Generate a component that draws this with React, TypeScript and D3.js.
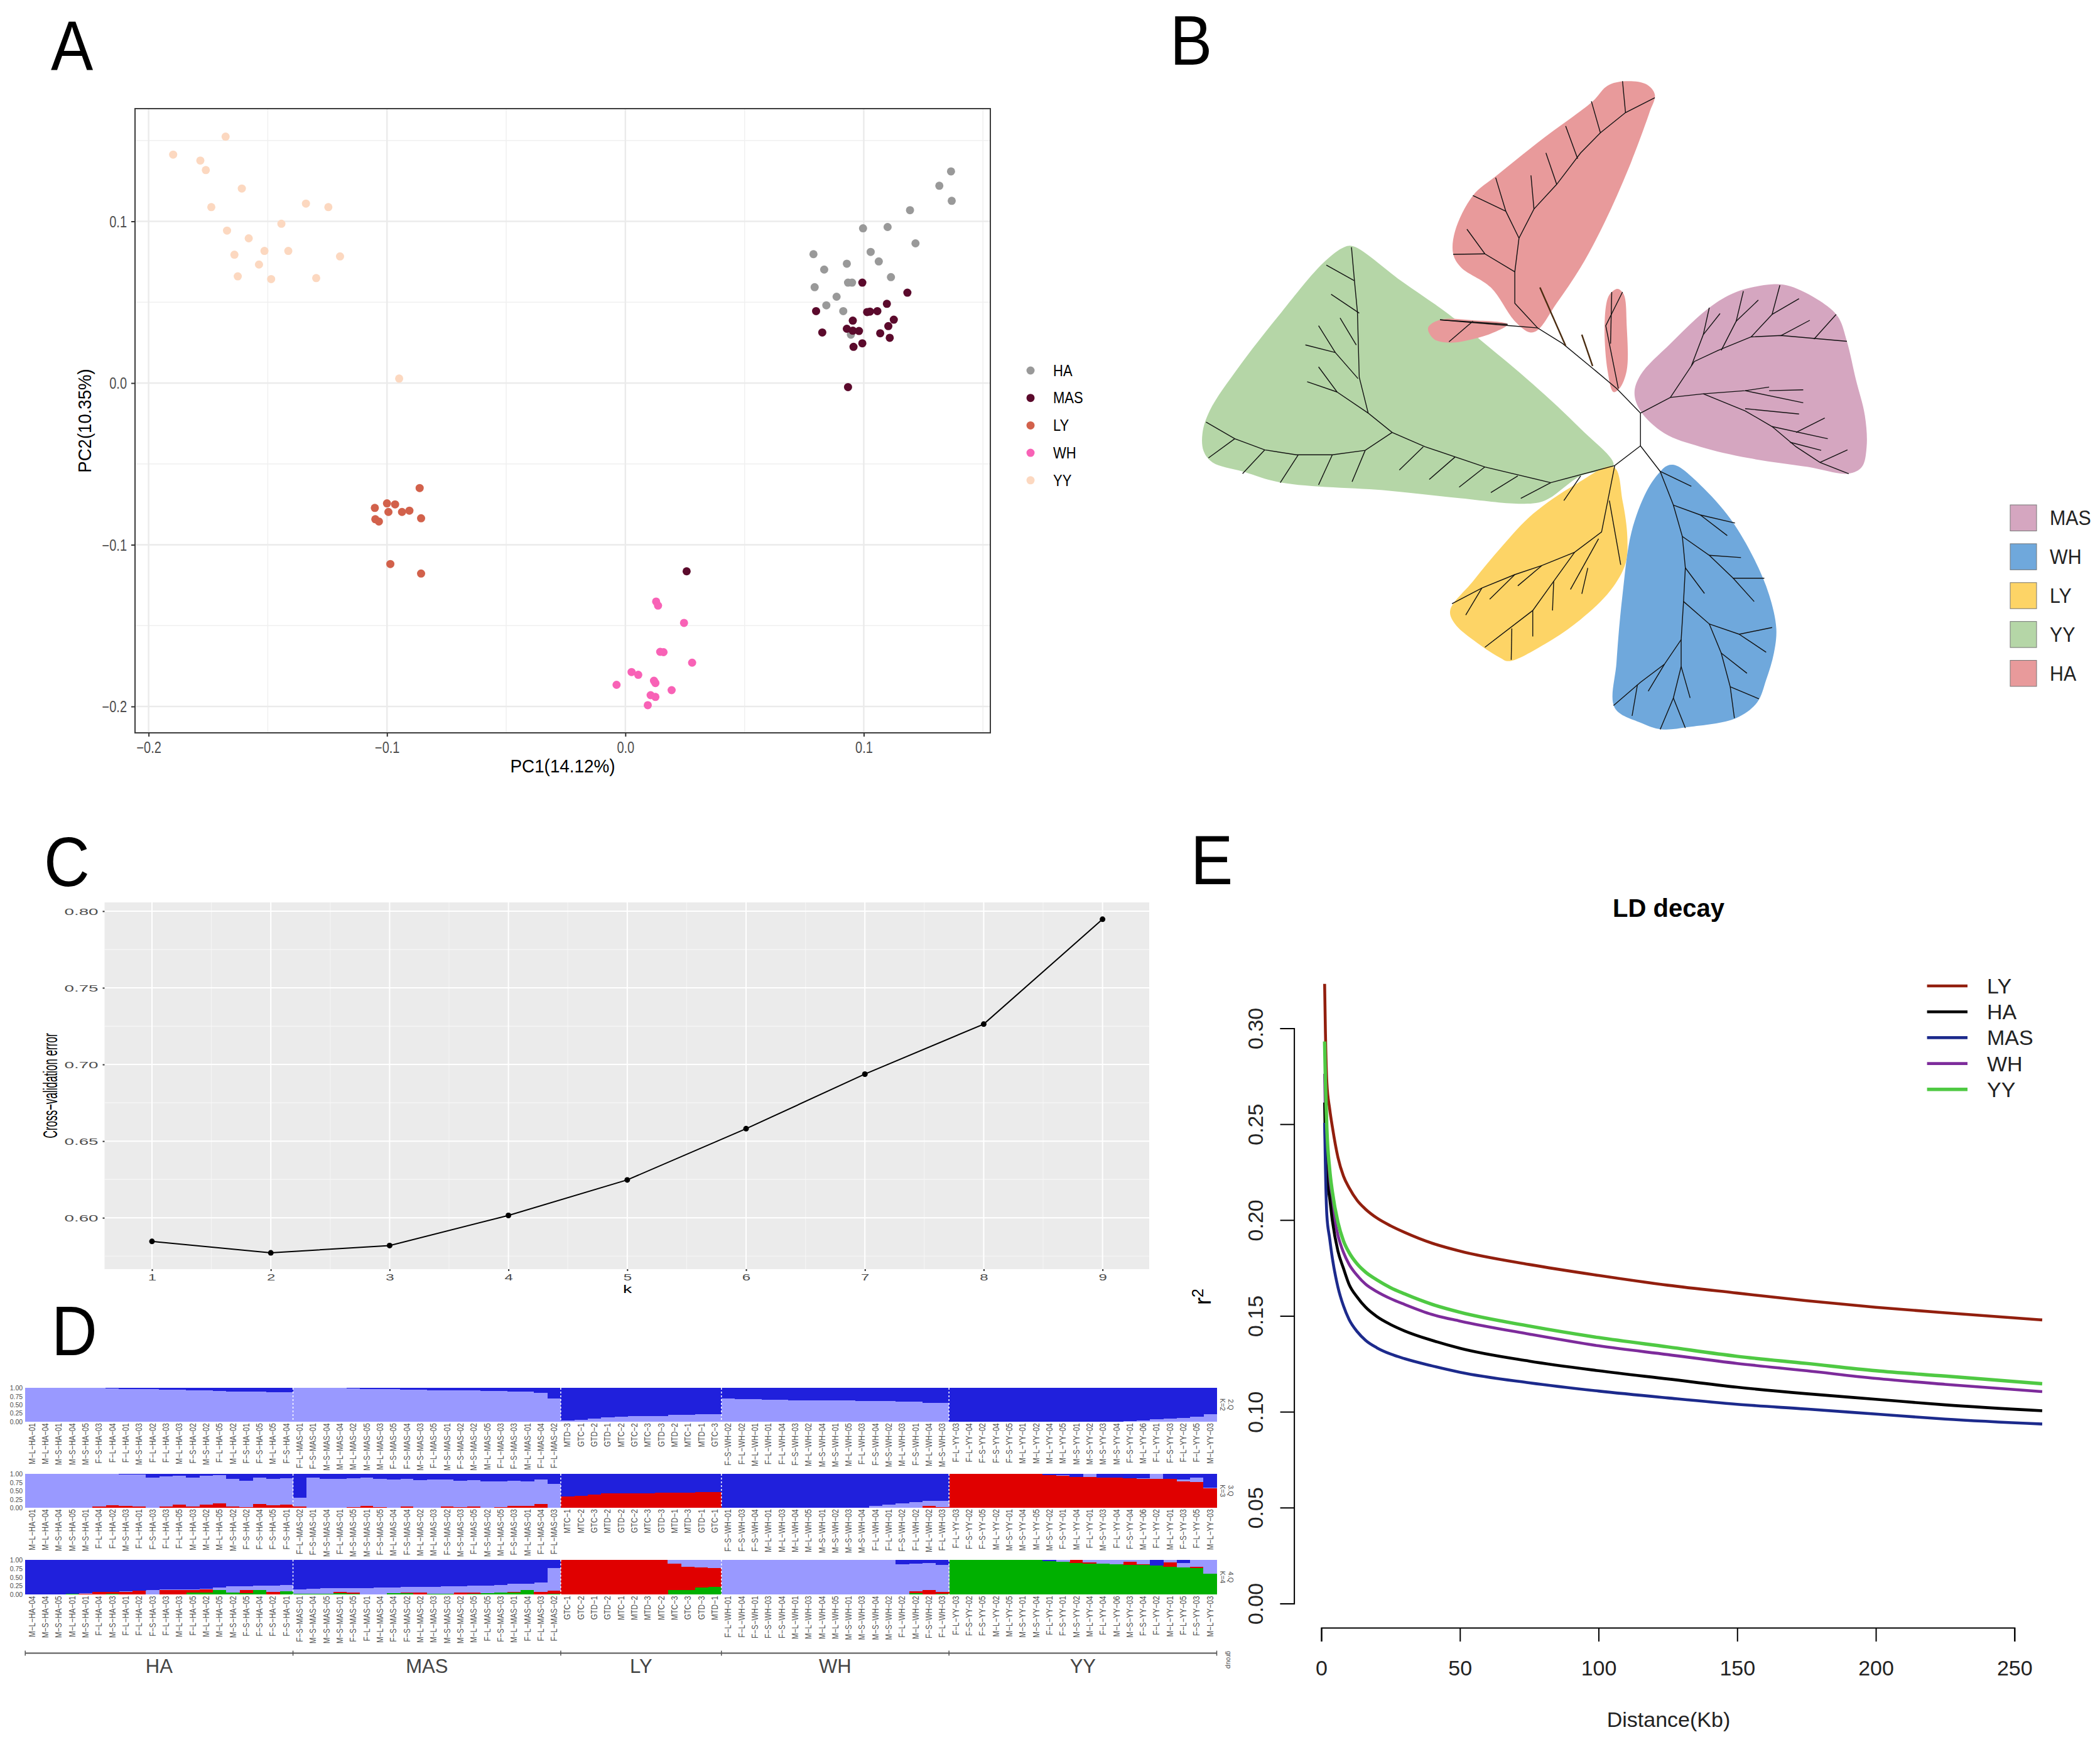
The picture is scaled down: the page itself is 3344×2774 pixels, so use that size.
import * as d3 from "d3";
import { useEffect, useRef } from "react";

const FONT = "'Liberation Sans', Arial, sans-serif";

// ---------- panel A: PCA ----------
const pcaGroups = ["HA", "MAS", "LY", "WH", "YY"];
const pcaColors = ["#999999", "#5b0a2c", "#d2614b", "#f862b6", "#fcd8c0"];
const pcaHA = [[.1366,.1309],[.1317,.122],[.1369,.1127],[.1194,.1069],[.0997,.0957],[.11,.0965],[.1217,.0864],[.0789,.0797],[.1029,.0811],[.1063,.0752],[.0929,.0738],[.0834,.0702],[.1114,.0655],[.0934,.0621],[.0951,.0621],[.0794,.0593],[.0886,.0534],[.0843,.0481],[.0914,.0445],[.0946,.0299]];
const pcaMAS = [[.0994,.0621],[.1183,.0559],[.1097,.049],[.08,.0445],[.1014,.0439],[.1026,.0442],[.1057,.0445],[.0954,.0386],[.1126,.0392],[.1103,.0352],[.0929,.0336],[.0954,.0324],[.098,.0322],[.0826,.0313],[.1069,.0308],[.1109,.028],[.0994,.0246],[.0957,.0224],[.0934,-.0025],[.0257,-.1164]];
const pcaLY = [[-.0863,-.0649],[-.1,-.0744],[-.0966,-.075],[-.1051,-.0772],[-.0994,-.0797],[-.0937,-.0797],[-.0906,-.0789],[-.0857,-.0836],[-.1049,-.0842],[-.1034,-.0856],[-.0986,-.1119],[-.0857,-.1178]];
const pcaWH = [[.0129,-.1351],[.0137,-.1376],[.0246,-.1483],[.0146,-.1662],[.016,-.1664],[.028,-.1729],[.0026,-.1787],[.0054,-.1804],[-.0037,-.1866],[.012,-.1841],[.0126,-.1855],[.0194,-.1899],[.0106,-.193],[.0126,-.1941],[.0094,-.1992]];
const pcaYY = [[-.1677,.1524],[-.1897,.1413],[-.1783,.1376],[-.176,.1317],[-.1609,.1203],[-.1737,.1088],[-.134,.111],[-.1246,.1088],[-.1443,.0985],[-.1671,.0943],[-.158,.0895],[-.1514,.0817],[-.1414,.0817],[-.164,.0794],[-.1197,.0783],[-.1537,.0733],[-.1626,.066],[-.1486,.0643],[-.1297,.0649],[-.0949,.0028]];
const pcaPoints = [pcaHA, pcaMAS, pcaLY, pcaWH, pcaYY];

// ---------- panel B: tree, in crop units ----------
const treeLegend = ["MAS", "WH", "LY", "YY", "HA"];
const treeColors = ["#d5a6c0", "#6fa8dc", "#fdd466", "#b5d6a7", "#e89a9b"];
const blobYY = [[305,425],[320,423],[400,500],[480,575],[540,640],[620,730],[700,830],[755,912],[700,935],[640,990],[600,997],[500,985],[380,968],[200,950],[135,925],[85,905],[70,880],[68,840],[80,790],[130,690],[200,570],[270,460]];
const blobHA = [[775,55],[810,62],[824,85],[815,125],[780,250],[740,370],[700,470],[660,550],[628,610],[615,615],[590,590],[550,515],[500,470],[487,440],[490,390],[520,310],[560,265],[640,180],[720,100],[745,65]];
const blobHA2 = [[445,605],[465,587],[520,588],[578,597],[555,615],[520,630],[480,638],[455,630]];
const blobHA3 = [[752,525],[762,518],[772,530],[777,600],[777,700],[765,740],[755,748],[745,700],[740,600],[745,540]];
const blobLY = [[755,915],[770,990],[778,1070],[775,1130],[750,1190],[700,1255],[640,1310],[580,1348],[565,1340],[530,1310],[490,1265],[482,1235],[520,1170],[570,1090],[620,1020],[690,955]];
const blobWH = [[845,912],[860,912],[900,955],[950,1030],[990,1120],[1015,1200],[1027,1275],[1023,1330],[1010,1390],[995,1440],[960,1475],[880,1495],[835,1500],[800,1485],[757,1452],[760,1350],[770,1200],[785,1060],[810,970],[830,930]];
const blobMAS = [[1020,508],[1050,512],[1100,545],[1130,580],[1145,635],[1160,720],[1175,800],[1178,870],[1170,915],[1148,930],[1080,915],[980,895],[900,870],[840,840],[800,790],[790,750],[800,710],[850,640],[915,560],[960,525]];
const blobs = [
  { pts: blobYY, fill: "#b5d6a7" }, { pts: blobHA, fill: "#e89a9b" }, { pts: blobHA2, fill: "#e89a9b" },
  { pts: blobHA3, fill: "#e89a9b" }, { pts: blobLY, fill: "#fdd466" }, { pts: blobWH, fill: "#6fa8dc" },
  { pts: blobMAS, fill: "#d5a6c0" },
];
const branches = [
  [[800,795],[800,868]],
  [[800,795],[760,740],[720,695],[670,640],[628,605],[580,600],[465,587]],
  [[628,605],[590,550],[590,480],[597,405],[622,340],[660,285],[700,215],[733,170],[775,125],[824,92]],
  [[597,405],[575,345],[558,270]],[[575,345],[520,310]],[[590,480],[540,440],[510,385]],[[540,440],[487,441]],
  [[622,340],[617,265]],[[660,285],[642,215]],[[695,228],[675,155]],[[733,170],[718,100]],[[775,125],[770,55]],
  [[520,590],[480,636]],[[465,587],[578,597]],
  [[763,740],[742,600],[770,525]],[[752,525],[750,640]],
  [[800,795],[850,760],[905,752],[975,745],[1015,737]],[[975,745],[1072,772]],[[1015,745],[1072,743]],
  [[850,760],[890,680],[930,655],[985,625],[1035,622],[1145,635]],[[885,690],[905,620],[915,560]],[[905,620],[933,573]],
  [[935,655],[960,590],[972,523]],[[960,590],[997,543]],[[985,625],[1020,575],[1033,510]],[[1020,575],[1065,540]],
  [[1035,622],[1083,588]],[[1090,630],[1127,575]],
  [[905,752],[975,790],[1020,825],[1060,870],[1100,905],[1148,930]],[[975,785],[1065,797]],[[1020,825],[1113,852]],
  [[1060,838],[1108,806]],[[1050,860],[1102,878]],[[1100,905],[1146,877]],
  [[800,868],[757,912],[650,950],[540,915],[440,870],[385,838],[345,795],[330,715],[327,570],[322,500],[317,425]],
  [[385,838],[340,878],[285,888],[225,888],[172,877],[122,852],[74,815]],
  [[122,852],[78,895]],[[172,877],[135,930]],[[228,888],[198,950]],[[285,888],[262,955]],[[340,878],[318,948]],
  [[437,870],[397,922]],[[490,893],[447,943]],[[540,915],[497,960]],[[595,935],[550,972]],[[650,950],[600,985]],
  [[322,500],[275,465]],[[330,572],[283,530]],[[328,718],[290,660],[262,600]],[[290,660],[240,643]],[[325,643],[298,583]],
  [[345,795],[293,748],[262,692]],[[293,748],[243,725]],
  [[757,912],[735,1060],[690,1105],[635,1135],[590,1155],[535,1185],[485,1220]],[[700,935],[672,990]],
  [[748,990],[767,1133]],[[690,1105],[655,1170],[620,1235],[540,1317]],[[535,1185],[508,1245]],[[590,1155],[548,1210]],
  [[635,1135],[595,1180]],[[655,1170],[653,1235]],[[620,1235],[620,1293]],[[585,1275],[584,1345]],[[730,1075],[683,1188]],[[712,1140],[702,1198]],
  [[800,868],[833,925],[855,1000],[870,1070],[875,1140],[872,1215],[868,1300],[840,1355],[800,1395],[755,1447]],
  [[833,925],[885,958]],[[855,1000],[900,1022],[958,1040]],[[900,1022],[945,1068]],[[870,1070],[915,1112],[968,1117]],
  [[915,1112],[955,1163],[1007,1163]],[[955,1163],[990,1215]],[[875,1140],[907,1197]],
  [[872,1215],[915,1265],[935,1330],[950,1405],[957,1475]],[[915,1265],[965,1288],[1020,1273]],[[965,1288],[1010,1328]],
  [[935,1330],[978,1375]],[[950,1405],[998,1432]],[[868,1300],[868,1360],[855,1430],[833,1500]],[[855,1430],[875,1497]],
  [[868,1360],[883,1430]],[[840,1355],[813,1415]],[[795,1400],[786,1470]],
];
const brownBranches = [[[632,515],[675,645]],[[702,620],[720,690]]];

// ---------- panel C: cross-validation ----------
const cvK = [1, 2, 3, 4, 5, 6, 7, 8, 9];
const cvError = [.5846, .5771, .5819, .6015, .6247, .6581, .6937, .7263, .7947];

// ---------- panel D: admixture ----------
const groupNames = ["HA", "MAS", "LY", "WH", "YY"];
const groupSizes = [20, 20, 12, 17, 20];

const k2Labels = [
  "M-L-HA-01","M-L-HA-04","M-S-HA-01","M-S-HA-04","M-S-HA-05","F-S-HA-03","F-L-HA-04","F-L-HA-01","M-S-HA-03","F-L-HA-02","F-L-HA-03","M-L-HA-03","F-S-HA-02","M-S-HA-02","F-L-HA-05","M-L-HA-02","F-S-HA-01","F-S-HA-05","M-L-HA-05","F-S-HA-04",
  "F-L-MAS-01","F-S-MAS-01","M-S-MAS-04","M-L-MAS-04","M-L-MAS-02","M-S-MAS-05","M-L-MAS-03","F-S-MAS-05","F-S-MAS-04","M-S-MAS-03","F-L-MAS-05","M-S-MAS-01","F-S-MAS-02","M-S-MAS-02","M-L-MAS-05","F-L-MAS-03","F-S-MAS-03","M-L-MAS-01","F-L-MAS-04","F-L-MAS-02",
  "MTD-3","GTC-1","GTD-2","GTD-1","MTC-2","GTC-2","MTC-3","GTD-3","MTD-2","MTC-1","MTD-1","GTC-3",
  "F-S-WH-02","F-L-WH-02","M-L-WH-01","F-L-WH-01","F-L-WH-04","F-S-WH-03","M-L-WH-02","M-S-WH-04","M-S-WH-01","M-L-WH-05","F-L-WH-03","F-S-WH-04","M-S-WH-02","M-L-WH-03","F-S-WH-01","M-L-WH-04","M-S-WH-03",
  "F-L-YY-03","F-L-YY-04","F-S-YY-02","F-S-YY-04","F-S-YY-05","M-L-YY-01","M-L-YY-02","M-L-YY-04","M-L-YY-05","M-S-YY-01","M-S-YY-02","M-S-YY-03","M-S-YY-04","F-S-YY-01","M-L-YY-06","F-L-YY-01","F-S-YY-03","F-L-YY-02","F-L-YY-05","M-L-YY-03",
];
const k3Labels = [
  "M-L-HA-01","M-L-HA-04","M-S-HA-04","M-S-HA-05","M-S-HA-01","F-L-HA-04","F-L-HA-02","M-S-HA-03","F-L-HA-01","F-S-HA-03","F-L-HA-03","F-L-HA-05","M-L-HA-03","M-L-HA-02","M-L-HA-05","M-S-HA-02","F-S-HA-02","F-S-HA-04","F-S-HA-05","F-S-HA-01",
  "F-L-MAS-02","F-S-MAS-01","M-S-MAS-04","F-L-MAS-01","M-S-MAS-05","M-S-MAS-01","F-S-MAS-05","M-L-MAS-04","F-S-MAS-04","M-L-MAS-02","M-L-MAS-03","F-S-MAS-02","M-S-MAS-03","F-L-MAS-05","M-S-MAS-02","M-L-MAS-05","F-S-MAS-03","M-L-MAS-01","F-L-MAS-04","F-L-MAS-03",
  "MTC-1","MTC-2","GTC-3","MTD-2","GTD-2","GTC-2","MTC-3","GTD-3","MTD-1","MTD-3","GTD-1","GTC-1",
  "F-S-WH-01","F-S-WH-03","F-S-WH-04","M-L-WH-01","M-L-WH-03","M-L-WH-04","M-L-WH-05","M-S-WH-01","M-S-WH-02","M-S-WH-03","M-S-WH-04","F-L-WH-04","F-L-WH-01","F-S-WH-02","F-L-WH-02","M-L-WH-02","F-L-WH-03",
  "F-L-YY-03","F-S-YY-02","F-S-YY-05","M-L-YY-02","M-S-YY-01","M-S-YY-04","M-L-YY-05","M-S-YY-02","F-S-YY-01","M-L-YY-04","F-L-YY-01","M-S-YY-03","F-L-YY-04","F-S-YY-04","M-L-YY-06","F-L-YY-02","M-L-YY-01","F-S-YY-03","F-L-YY-05","M-L-YY-03",
];
const k4Labels = [
  "M-L-HA-04","M-S-HA-04","M-S-HA-05","M-L-HA-01","M-S-HA-01","F-L-HA-04","M-S-HA-03","F-L-HA-01","F-L-HA-02","F-S-HA-03","F-L-HA-03","M-L-HA-03","F-L-HA-05","M-L-HA-02","M-L-HA-05","M-S-HA-02","F-S-HA-05","F-S-HA-04","F-S-HA-02","F-S-HA-01",
  "F-S-MAS-01","M-S-MAS-04","M-S-MAS-05","M-S-MAS-01","F-S-MAS-05","F-L-MAS-01","M-L-MAS-04","F-S-MAS-04","F-S-MAS-02","M-L-MAS-02","M-L-MAS-03","M-S-MAS-03","M-S-MAS-02","M-L-MAS-05","F-L-MAS-05","F-S-MAS-03","M-L-MAS-01","F-L-MAS-04","F-L-MAS-03","F-L-MAS-02",
  "GTC-1","GTC-2","GTD-1","GTD-2","MTC-1","MTD-2","MTD-3","MTC-2","MTC-3","GTC-3","GTD-3","MTD-1",
  "F-L-WH-01","F-L-WH-04","F-S-WH-01","F-S-WH-03","F-S-WH-04","M-L-WH-01","M-L-WH-03","M-L-WH-04","M-L-WH-05","M-S-WH-01","M-S-WH-03","M-S-WH-04","M-S-WH-02","F-L-WH-02","M-L-WH-02","F-S-WH-02","F-L-WH-03",
  "F-L-YY-03","F-S-YY-02","F-S-YY-05","M-L-YY-02","M-L-YY-05","M-S-YY-01","M-S-YY-04","F-L-YY-01","F-S-YY-01","M-S-YY-02","M-L-YY-04","F-L-YY-04","M-L-YY-06","M-S-YY-03","F-S-YY-04","F-L-YY-02","M-L-YY-01","F-L-YY-05","F-S-YY-03","M-L-YY-03",
];

// blue is whatever is left up to 1
const k2Lav = [
  1,1,1,1,1,.99,.98,.97,.97,.96,.95,.94,.93,.92,.91,.89,.88,.88,.86,.86,
  1,.99,.99,.99,.98,.97,.96,.96,.95,.94,.93,.93,.93,.93,.91,.9,.89,.88,.845,.68,
  .04,.05,.08,.12,.15,.155,.17,.17,.19,.19,.21,.22,
  .68,.67,.66,.65,.64,.63,.63,.62,.62,.62,.61,.61,.6,.59,.58,.56,.55,
  0,0,0,0,0,0,0,0,0,0,0,0,0,.02,.04,.06,.09,.11,.15,.22,
];
const k3Red = [
  0,0,0,0,0,.03,.07,.05,.04,0,.04,.08,.04,.09,.12,.03,.01,.11,.07,.09,
  .03,0,0,0,.01,.05,.01,0,.03,0,0,.03,.01,.03,0,.01,.05,.06,.1,0,
  .33,.35,.39,.42,.43,.43,.43,.44,.44,.45,.455,.46,
  0,0,0,0,0,0,0,0,0,0,0,0,0,0,0,.05,.02,
  1,1,1,1,1,1,1,.97,.935,.91,.91,.895,.88,.865,.86,.85,.845,.78,.76,.57,
];
const k3Lav = [
  1,1,1,1,1,.97,.93,.94,.95,.895,.88,.865,.855,.85,.84,.815,.785,.775,.78,.775,
  .265,.895,.86,.86,.86,.835,.85,.83,.82,.815,.825,.81,.79,.785,.775,.77,.75,.715,.73,.705,
  0,0,0,0,0,0,0,0,0,0,0,0,
  0,0,0,0,0,0,0,0,0,0,0,.06,.085,.12,.155,.15,.19,
  0,0,0,0,0,0,0,0,.03,0,.09,0,0,0,.01,.15,0,.06,.12,.03,
];
const k4Green = [
  0,0,0,.01,0,0,.02,0,0,0,0,0,.05,.06,.13,.05,.04,.12,0,.09,
  .01,.01,.01,.03,.01,0,0,.04,.03,0,.01,.02,0,.02,.04,.06,.06,.12,0,.02,
  0,0,0,0,0,0,0,0,.13,.12,.205,.215,
  0,0,0,0,0,0,0,0,0,0,0,0,0,0,.04,0,.02,
  1,1,1,1,1,1,1,.955,.945,.9,.895,.885,.865,.86,.855,.84,.8,.77,.76,.59,
];
const k4Red = [
  0,0,0,0,.02,.07,.05,.08,.1,0,.135,.13,.08,.08,0,0,.095,.01,.07,0,
  0,0,0,.05,.04,0,0,0,.03,.06,0,0,.06,.03,0,0,.02,0,.08,.09,
  1,1,1,1,1,1,1,1,.76,.675,.575,.545,
  0,0,0,0,0,0,0,0,0,0,0,0,0,0,.05,.13,.05,
  0,0,0,0,0,0,0,0,0,.1,.02,0,0,.08,.02,0,.12,0,.03,0,
];
const k4Lav = [
  0,0,0,.01,.015,0,.01,.01,0,.13,.005,.01,.02,.03,.07,.18,.105,.12,.19,.18,
  .14,.16,.17,.1,.14,.19,.2,.16,.15,.15,.21,.21,.18,.2,.22,.21,.22,.19,.26,.65,
  0,0,0,0,0,0,0,0,.11,.205,.22,.24,
  1,1,1,1,1,1,1,1,1,1,1,1,1,.87,.8,.77,.78,
  0,0,0,0,0,0,0,0,.055,0,.085,.115,.135,.06,.125,0,.08,.13,.21,.41,
];
const ancestryColors: Record<string, string> = { green: "#00b000", red: "#e00000", lav: "#9999ff", blue: "#2020dc" };

// ---------- panel E: LD decay ----------
const ldKb = [1.2, 1.5, 2, 3, 4, 6, 8, 10, 13, 16, 20, 25, 30, 40, 50, 75, 100, 125, 150, 175, 200, 225, 260];
const ldLY = [.3232,.2973,.2718,.2582,.2485,.2327,.2229,.2169,.2101,.2056,.2011,.197,.1936,.1879,.1838,.1768,.1711,.166,.1619,.1579,.1545,.1516,.1479];
const ldHA = [.2613,.2357,.2222,.2116,.1996,.1838,.1748,.1665,.1597,.1545,.1497,.1455,.1422,.1372,.1331,.1264,.1214,.1171,.1128,.1094,.1065,.1036,.1005];
const ldMAS = [.2507,.2267,.2026,.1906,.18,.165,.1552,.1482,.1417,.1372,.1334,.1301,.1277,.1239,.1206,.1151,.1108,.1072,.1039,.1014,.0988,.0962,.0936];
const ldWH = [.2763,.2537,.2327,.2176,.2071,.1921,.1831,.177,.171,.1665,.1627,.159,.156,.1507,.1473,.1405,.1344,.1298,.1252,.1214,.1174,.1143,.1105];
const ldYY = [.2931,.2718,.2477,.2267,.2146,.1988,.1891,.1831,.177,.1728,.1688,.1647,.1615,.156,.1519,.1447,.1387,.1338,.1289,.1252,.1214,.1186,.1146];
const ldSeries = [
  { name: "LY", values: ldLY, color: "#921f0e", width: 4.6 },
  { name: "HA", values: ldHA, color: "#000000", width: 4.6 },
  { name: "MAS", values: ldMAS, color: "#1c2a8c", width: 4.6 },
  { name: "WH", values: ldWH, color: "#7d2b9b", width: 4.6 },
  { name: "YY", values: ldYY, color: "#4fc943", width: 5.4 },
];
const ldDrawOrder = ["LY", "WH", "HA", "MAS", "YY"];

type Sel = any;

function label(g: Sel, x: number, y: number, s: string, o: any = {}) {
  const t = g.append("text")
    .attr("transform", `translate(${x},${y}) rotate(${o.rotate || 0}) scale(${o.sx || 1},1)`)
    .attr("dy", ".35em")
    .attr("text-anchor", o.anchor || "middle")
    .attr("font-family", FONT)
    .attr("font-size", o.size || 20)
    .attr("font-weight", o.weight || "normal")
    .attr("fill", o.color || "#000")
    .text(s);
  return t;
}

// restyle d3 axis tick labels; dx/dy are measured from the tick
function tickText(axis: Sel, o: any) {
  axis.selectAll(".tick text")
    .attr("x", 0).attr("y", 0).attr("dy", ".35em")
    .attr("text-anchor", o.anchor || "middle")
    .attr("font-family", FONT)
    .attr("font-size", o.size)
    .attr("fill", o.color || "#000")
    .attr("transform", `translate(${o.dx || 0},${o.dy || 0}) rotate(${o.rotate || 0}) scale(${o.sx || 1},1)`);
}

function drawPca(svg: Sel) {
  const g = svg.append("g");
  const x = d3.scaleLinear().domain([-.2057, .1531]).range([215, 1577]);
  const y = d3.scaleLinear().domain([-.2163, .1697]).range([1167, 173]);

  [-.15, -.05, .05, .15].forEach(v => {
    g.append("line").attr("x1", x(v)).attr("x2", x(v)).attr("y1", 173).attr("y2", 1167).attr("stroke", "#f0f0f0").attr("stroke-width", 1.5);
    g.append("line").attr("y1", y(v)).attr("y2", y(v)).attr("x1", 215).attr("x2", 1577).attr("stroke", "#f0f0f0").attr("stroke-width", 1.5);
  });
  [-.2, -.1, 0, .1].forEach(v => {
    g.append("line").attr("x1", x(v)).attr("x2", x(v)).attr("y1", 173).attr("y2", 1167).attr("stroke", "#ebebeb").attr("stroke-width", 2.5);
    g.append("line").attr("y1", y(v)).attr("y2", y(v)).attr("x1", 215).attr("x2", 1577).attr("stroke", "#ebebeb").attr("stroke-width", 2.5);
  });

  pcaPoints.forEach((pts, i) => {
    g.append("g").selectAll("circle").data(pts).join("circle")
      .attr("cx", (d: number[]) => x(d[0]))
      .attr("cy", (d: number[]) => y(d[1]))
      .attr("r", 6.5)
      .attr("fill", pcaColors[i]);
  });

  g.append("rect").attr("x", 215).attr("y", 173).attr("width", 1362).attr("height", 994)
    .attr("fill", "none").attr("stroke", "#3c3c3c").attr("stroke-width", 2);

  const ticks = [-.2, -.1, 0, .1];
  const ax = g.append("g").attr("transform", "translate(0,1167)")
    .call(d3.axisBottom(x).tickValues(ticks).tickFormat(d3.format(".1f") as any).tickSize(6));
  ax.select(".domain").remove();
  ax.selectAll("line").attr("stroke", "#333").attr("stroke-width", 2);
  tickText(ax, { size: 25, color: "#4d4d4d", sx: .8, dy: 23 });
  const ay = g.append("g").attr("transform", "translate(215,0)")
    .call(d3.axisLeft(y).tickValues(ticks).tickFormat(d3.format(".1f") as any).tickSize(6));
  ay.select(".domain").remove();
  ay.selectAll("line").attr("stroke", "#333").attr("stroke-width", 2);
  tickText(ay, { size: 25, color: "#4d4d4d", sx: .8, dx: -13, anchor: "end" });

  label(g, 896, 1220, "PC1(14.12%)", { size: 29, sx: .96 });
  label(g, 135, 670, "PC2(10.35%)", { size: 29, rotate: -90, sx: .95 });

  pcaGroups.forEach((name, i) => {
    const ly = 590 + i * 43.7;
    g.append("circle").attr("cx", 1641).attr("cy", ly).attr("r", 6.5).attr("fill", pcaColors[i]);
    label(g, 1677, ly, name, { size: 25, sx: .88, anchor: "start" });
  });
}

function drawTree(svg: Sel) {
  const g = svg.append("g");
  const x = d3.scaleLinear().domain([0, 1568]).range([1850, 3344]);
  const y = d3.scaleLinear().domain([0, 1568]).range([90, 1210]);
  const blob = d3.line<number[]>().x(d => x(d[0])).y(d => y(d[1])).curve(d3.curveCatmullRomClosed.alpha(.5));
  const path = d3.line<number[]>().x(d => x(d[0])).y(d => y(d[1]));

  g.append("g").selectAll("path").data(blobs).join("path")
    .attr("d", (d: any) => blob(d.pts))
    .attr("fill", (d: any) => d.fill);
  g.append("g").selectAll("path").data(branches).join("path")
    .attr("d", (d: any) => path(d))
    .attr("fill", "none").attr("stroke", "#111").attr("stroke-width", 1.4);
  g.append("g").selectAll("path").data(brownBranches).join("path")
    .attr("d", (d: any) => path(d))
    .attr("fill", "none").attr("stroke", "#4a2c10").attr("stroke-width", 2.4);

  const swatch = d3.scaleBand<string>().domain(treeLegend).range([804, 1093]).paddingInner(.33).paddingOuter(0);
  treeLegend.forEach((name, i) => {
    const sy = swatch(name)!;
    g.append("rect").attr("x", 3201).attr("y", sy).attr("width", 42).attr("height", swatch.bandwidth())
      .attr("fill", treeColors[i]).attr("stroke", "#777").attr("stroke-width", 1);
    label(g, 3264, sy + swatch.bandwidth() / 2, name, { size: 33, sx: .92, anchor: "start", color: "#222" });
  });
}

function drawCv(svg: Sel) {
  const g = svg.append("g");
  const L = 166.5, R = 1830, T = 1437, B = 2021;
  const x = d3.scaleLinear().domain([.601, 9.393]).range([L, R]);
  const y = d3.scaleLinear().domain([.5665, .8057]).range([B, T]);
  g.append("rect").attr("x", L).attr("y", T).attr("width", R - L).attr("height", B - T).attr("fill", "#ebebeb");

  d3.range(1.5, 9, 1).forEach(v => {
    g.append("line").attr("x1", x(v)).attr("x2", x(v)).attr("y1", T).attr("y2", B).attr("stroke", "#f4f4f4").attr("stroke-width", 1.2);
  });
  d3.range(.575, .8, .05).forEach(v => {
    g.append("line").attr("y1", y(v)).attr("y2", y(v)).attr("x1", L).attr("x2", R).attr("stroke", "#f7f7f7").attr("stroke-width", 1.2);
  });
  cvK.forEach(v => {
    g.append("line").attr("x1", x(v)).attr("x2", x(v)).attr("y1", T).attr("y2", B).attr("stroke", "#fff").attr("stroke-width", 2);
  });
  const yTicks = [.6, .65, .7, .75, .8];
  yTicks.forEach(v => {
    g.append("line").attr("y1", y(v)).attr("y2", y(v)).attr("x1", L).attr("x2", R).attr("stroke", "#fff").attr("stroke-width", 2);
  });

  const line = d3.line<number>().x((_, i) => x(cvK[i])).y(d => y(d));
  g.append("path").attr("d", line(cvError)).attr("fill", "none").attr("stroke", "#000").attr("stroke-width", 2);
  g.append("g").selectAll("circle").data(cvError).join("circle")
    .attr("cx", (_: number, i: number) => x(cvK[i]))
    .attr("cy", (d: number) => y(d))
    .attr("r", 4.5).attr("fill", "#000");

  const ax = g.append("g").attr("transform", `translate(0,${B})`)
    .call(d3.axisBottom(x).tickValues(cvK).tickFormat(d3.format("d") as any).tickSize(3));
  ax.select(".domain").remove();
  ax.selectAll("line").attr("stroke", "#333").attr("stroke-width", 2);
  tickText(ax, { size: 15, color: "#4d4d4d", sx: 1.6, dy: 13 });
  const ay = g.append("g").attr("transform", `translate(${L},0)`)
    .call(d3.axisLeft(y).tickValues(yTicks).tickFormat(d3.format(".2f") as any).tickSize(3));
  ay.select(".domain").remove();
  ay.selectAll("line").attr("stroke", "#333").attr("stroke-width", 2);
  tickText(ay, { size: 15, color: "#4d4d4d", sx: 1.85, dx: -10, anchor: "end" });

  label(g, 999, 2052, "k", { size: 19, sx: 1.5 });
  label(g, 80.6, 1729, "Cross\u2212validation error", { size: 31, rotate: -90, sx: .55 });
}

function drawAdmixture(svg: Sel) {
  const g = svg.append("g");
  const L = 40.2, R = 1937.5;
  const n = d3.sum(groupSizes);
  const x = d3.scaleBand<number>().domain(d3.range(n)).range([L, R]);
  const starts = d3.cumsum(groupSizes);
  const bounds = [0, ...starts].map(v => L + v * x.step());

  const rows = [
    { top: 2209.9, h: 53.8, name: "2.Q", k: "K=2", labels: k2Labels, parts: [["lav", k2Lav]] },
    { top: 2347, h: 53.8, name: "3.Q", k: "K=3", labels: k3Labels, parts: [["red", k3Red], ["lav", k3Lav]] },
    { top: 2483.8, h: 55.2, name: "4.Q", k: "K=4", labels: k4Labels, parts: [["green", k4Green], ["red", k4Red], ["lav", k4Lav]] },
  ];

  rows.forEach(row => {
    const y = d3.scaleLinear().domain([0, 1]).range([row.top + row.h, row.top]);
    const keys = [...row.parts.map((p: any) => p[0]), "blue"];
    const table = d3.range(n).map(i => {
      const rec: any = {};
      let sum = 0;
      row.parts.forEach((p: any) => { rec[p[0]] = p[1][i]; sum += p[1][i]; });
      rec.blue = Math.max(0, 1 - sum);
      return rec;
    });
    const layers = d3.stack<any>().keys(keys)(table);
    layers.forEach(layer => {
      g.append("g").attr("shape-rendering", "crispEdges").selectAll("rect").data(layer).join("rect")
        .attr("x", (_: any, i: number) => x(i))
        .attr("width", x.bandwidth() + .5)
        .attr("y", (d: number[]) => y(d[1]))
        .attr("height", (d: number[]) => y(d[0]) - y(d[1]))
        .attr("fill", ancestryColors[layer.key]);
    });

    bounds.slice(1, -1).forEach(b => {
      g.append("line").attr("x1", b).attr("x2", b).attr("y1", row.top).attr("y2", row.top + row.h)
        .attr("stroke", "#fff").attr("stroke-width", 1.5).attr("stroke-dasharray", "3 3");
    });

    const ay = g.append("g").attr("transform", `translate(${L},0)`)
      .call(d3.axisLeft(y).tickValues([0, .25, .5, .75, 1]).tickFormat(d3.format(".2f") as any).tickSize(0));
    ay.select(".domain").remove();
    tickText(ay, { size: 10.5, color: "#4d4d4d", dx: -4, anchor: "end" });

    row.labels.forEach((s, i) => {
      label(g, x(i)! + x.bandwidth() / 2, row.top + row.h + 2.5, s.replace(/-/g, "\u2212"),
        { size: 14, sx: .83, rotate: -90, anchor: "end", color: "#4d4d4d" });
    });

    label(g, 1947, row.top + row.h / 2, row.k, { size: 11, rotate: 90, color: "#4d4d4d" });
    label(g, 1960, row.top + row.h / 2, row.name, { size: 11, rotate: 90, color: "#4d4d4d" });
  });

  const gy = 2632.6;
  g.append("line").attr("x1", L).attr("x2", R).attr("y1", gy).attr("y2", gy).attr("stroke", "#555").attr("stroke-width", 2);
  bounds.forEach(b => {
    g.append("line").attr("x1", b).attr("x2", b).attr("y1", gy - 4).attr("y2", gy + 4).attr("stroke", "#555").attr("stroke-width", 1.5);
  });
  groupNames.forEach((name, i) => {
    label(g, (bounds[i] + bounds[i + 1]) / 2, 2653.5, name, { size: 31, color: "#444" });
  });
  label(g, 1957, 2643, "group", { size: 11, rotate: 90, color: "#4d4d4d" });
}

function drawLd(svg: Sel) {
  const g = svg.append("g");
  const x = d3.scaleLinear().domain([0, 250]).range([2104, 3207.8]);
  const y = d3.scaleLinear().domain([0, .3]).range([2553.4, 1637.5]);

  const line = d3.line<number>().x((_, i) => x(ldKb[i])).y(d => y(d)).curve(d3.curveMonotoneX);
  ldDrawOrder.forEach(name => {
    const s = ldSeries.find(d => d.name === name)!;
    g.append("path").attr("d", line(s.values)).attr("fill", "none").attr("stroke", s.color).attr("stroke-width", s.width);
  });

  const ax = g.append("g").attr("transform", "translate(0,2592)")
    .call(d3.axisBottom(x).tickValues([0, 50, 100, 150, 200, 250]).tickSize(22).tickSizeOuter(22).tickFormat(d3.format("d") as any));
  ax.selectAll("line").attr("stroke", "#000").attr("stroke-width", 2);
  ax.select(".domain").attr("stroke", "#000").attr("stroke-width", 2);
  tickText(ax, { size: 34, color: "#222", dy: 64 });
  const ay = g.append("g").attr("transform", "translate(2060.6,0)")
    .call(d3.axisLeft(y).tickValues([0, .05, .1, .15, .2, .25, .3]).tickSize(22).tickSizeOuter(22).tickFormat(d3.format(".2f") as any));
  ay.selectAll("line").attr("stroke", "#000").attr("stroke-width", 2);
  ay.select(".domain").attr("stroke", "#000").attr("stroke-width", 2);
  tickText(ay, { size: 34, color: "#222", dx: -62, rotate: -90 });

  label(g, 2657, 1446, "LD decay", { size: 40, weight: "bold" });
  label(g, 2657, 2738, "Distance(Kb)", { size: 34, color: "#222" });

  const r2 = label(g, 1915, 2065, "r", { size: 36, rotate: -90 });
  r2.append("tspan").attr("dy", "-.45em").attr("font-size", 25).text("2");

  ldSeries.forEach((s, i) => {
    const ly = 1570 + i * 41.2;
    g.append("line").attr("x1", 3068.6).attr("x2", 3133).attr("y1", ly).attr("y2", ly).attr("stroke", s.color).attr("stroke-width", s.width);
    label(g, 3164, ly, s.name, { size: 34, anchor: "start", color: "#222" });
  });
}

function drawLetters(svg: Sel) {
  const letters: [string, number, number][] = [["A", 81, 111], ["B", 1863, 103], ["C", 70, 1411], ["D", 82, 2158], ["E", 1896, 1408]];
  letters.forEach(([s, x, y]) => {
    svg.append("text").attr("transform", `translate(${x},${y}) scale(.9,1)`)
      .attr("font-family", FONT).attr("font-size", 112).attr("fill", "#000").text(s);
  });
}

export default function App() {
  const svgRef = useRef<SVGSVGElement>(null);

  useEffect(() => {
    const svg = d3.select(svgRef.current);
    svg.selectAll("*").remove();
    svg.append("rect").attr("width", 3344).attr("height", 2774).attr("fill", "#fff");
    drawPca(svg);
    drawTree(svg);
    drawCv(svg);
    drawAdmixture(svg);
    drawLd(svg);
    drawLetters(svg);
  }, []);

  return <svg ref={svgRef} width={3344} height={2774} style={{ position: "absolute", left: 0, top: 0, display: "block" }} />;
}
